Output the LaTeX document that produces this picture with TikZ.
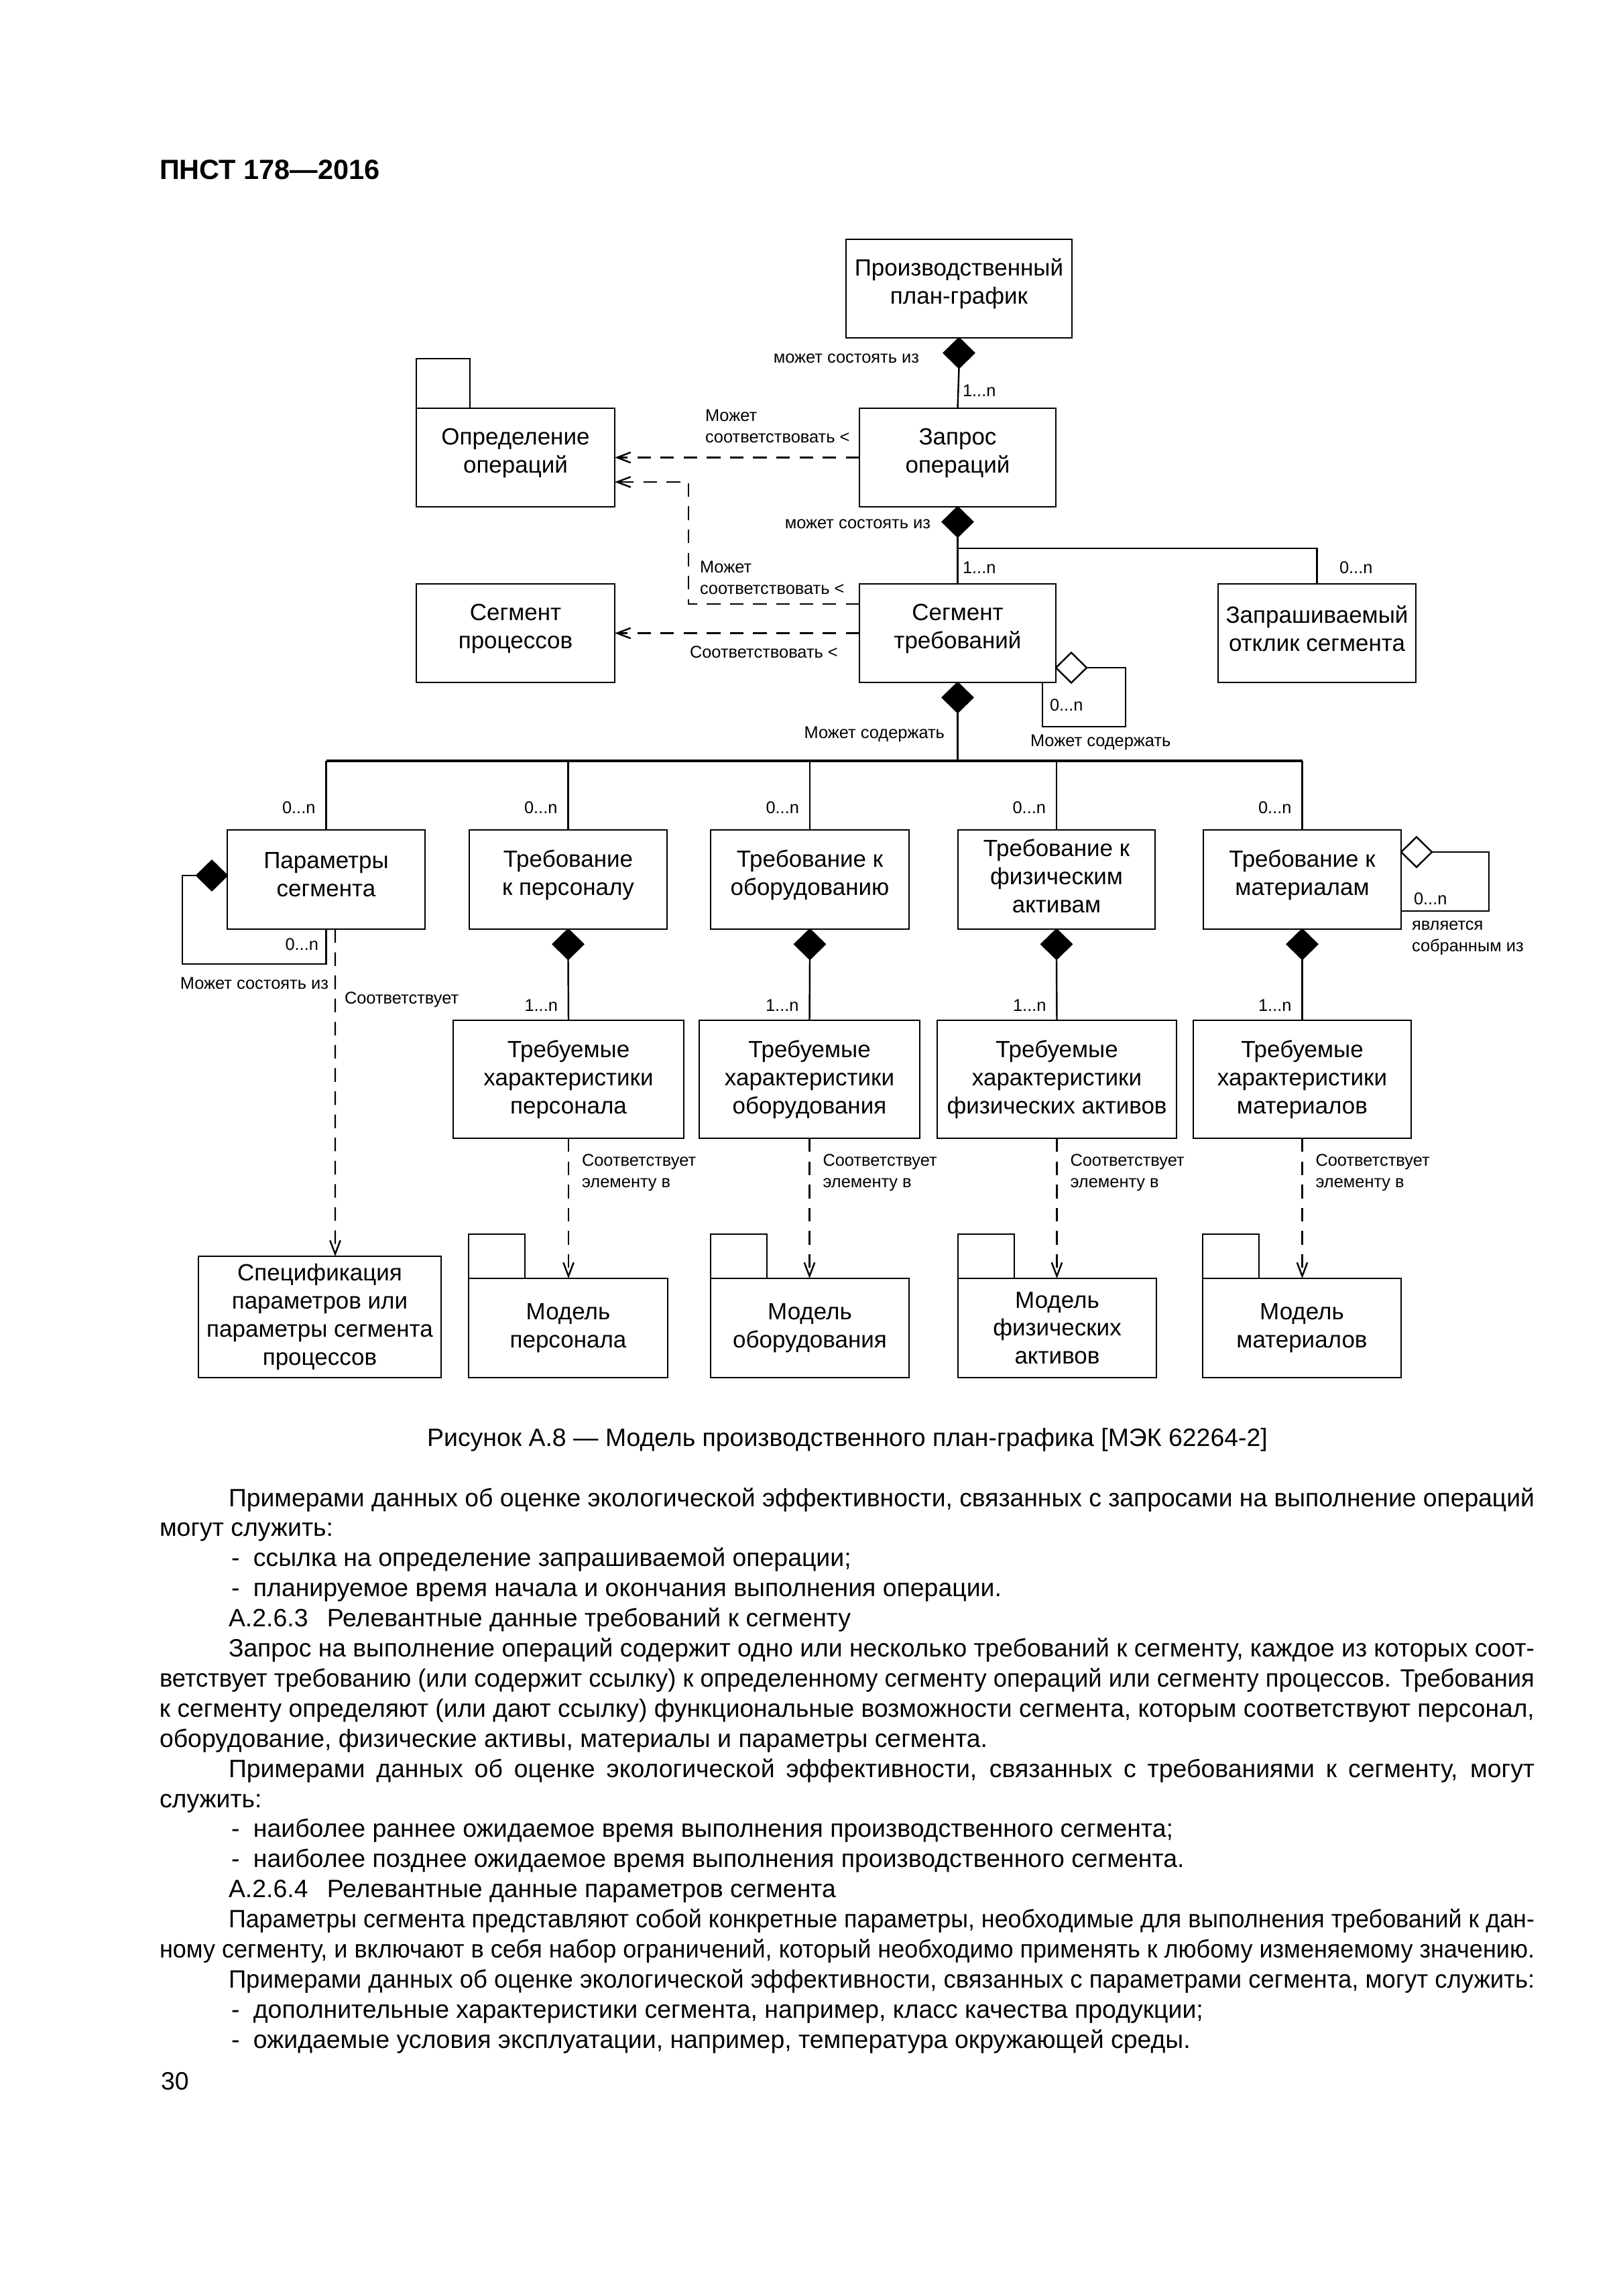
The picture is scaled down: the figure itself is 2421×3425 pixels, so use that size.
\documentclass[tikz,border=0pt]{standalone}
\usepackage{fontspec}
\usepackage{graphicx}
\setmainfont{Liberation Sans}
\usetikzlibrary{shapes.geometric,arrows.meta,calc}
\newsavebox\jlbox
\newcommand\jline[2]{\sbox\jlbox{#2}\ifdim\wd\jlbox>#1\relax\resizebox{#1}{\height}{\usebox\jlbox}\else\makebox[#1][s]{#2}\fi}
\newcommand\bodyfont{\fontsize{9.2pt}{11pt}\selectfont}
\newcommand\boxfont{\fontsize{8.6pt}{10.3pt}\selectfont}
\newcommand\lblfont{\fontsize{6.25pt}{7.8pt}\selectfont}
% \bx[text shift]{name}{x1}{y1}{x2}{y2}{text}
\newcommand\bx[7][0]{\node[box, minimum width={(#5-#3)*0.24589pt}, minimum height={(#6-#4)*0.24589pt}] (#2) at ({(#3+#5)/2},{(#4+#6)/2}) {};
  \node[boxtext] (#2t) at ($(#2.center)+(0,#1)$) {#7};}
\begin{document}
\begin{tikzpicture}[x=0.24589pt,y=-0.24589pt,
  every node/.style={inner sep=0pt, outer sep=0pt},
  box/.style={draw, line width=0.7pt},
  boxtext/.style={align=center, font=\boxfont},
  lbl/.style={font=\lblfont, align=left},
  txt/.style={font=\bodyfont, anchor=base west},
  con/.style={line width=0.6pt},
  bus/.style={line width=0.8pt},
  dep/.style={line width=0.6pt, dash pattern=on 5pt off 3.5pt, -{Straight Barb[length=5pt,width=3.8pt]}},
  fdiam/.style={diamond, draw, fill=black, line width=0.5pt, minimum width=46*0.24589pt, minimum height=45*0.24589pt},
  odiam/.style={diamond, draw, fill=white, line width=0.6pt, minimum width=46*0.24589pt, minimum height=45*0.24589pt}]
\fill[white] (0,0) rectangle (2421,3425);
\useasboundingbox (0,0) rectangle (2421,3425);

% header
\node[anchor=base west, font=\fontsize{10.2pt}{12pt}\selectfont\bfseries] (hdr) at (238,267) {ПНСТ 178—2016};

% top boxes
\bx[-7]{b1}{1262}{357}{1599}{504}{Производственный\\план-график}
\bx[-7]{b2}{621}{609}{917}{756}{Определение\\операций}
\bx[-7]{b3}{1282}{609}{1575}{756}{Запрос\\операций}
\bx[-7]{b4}{1282}{871}{1575}{1018}{Сегмент\\требований}
\bx[-7]{b5}{621}{871}{917}{1018}{Сегмент\\процессов}
\bx[-7]{b6}{1817}{871}{2112}{1018}{Запрашиваемый\\отклик сегмента}
\draw[line width=0.7pt] (b2.north west) rectangle ++(80,-74);

% row 3
\bx[-7]{r1}{339}{1238}{634}{1386}{Параметры\\сегмента}
\bx[-7]{r2}{700}{1238}{995}{1386}{Требование\\к персоналу}
\bx[-7]{r3}{1060}{1238}{1356}{1386}{Требование к\\оборудованию}
\bx[-5]{r4}{1429}{1238}{1723}{1386}{Требование к\\физическим\\активам}
\bx[-7]{r5}{1795}{1238}{2090}{1386}{Требование к\\материалам}

% row 4
\bx{q2}{676}{1522}{1020}{1698}{Требуемые\\характеристики\\персонала}
\bx{q3}{1043}{1522}{1372}{1698}{Требуемые\\характеристики\\оборудования}
\bx{q4}{1398}{1522}{1755}{1698}{Требуемые\\характеристики\\физических активов}
\bx{q5}{1780}{1522}{2105}{1698}{Требуемые\\характеристики\\материалов}

% row 5
\bx{s}{296}{1874}{658}{2055}{Спецификация\\параметров или\\параметры сегмента\\процессов}
\bx{m2}{699}{1907}{996}{2055}{Модель\\персонала}
\bx{m3}{1060}{1907}{1356}{2055}{Модель\\оборудования}
\bx{m4}{1429}{1907}{1725}{2055}{Модель\\физических\\активов}
\bx{m5}{1794}{1907}{2090}{2055}{Модель\\материалов}
\foreach \m in {m2,m3,m4,m5}{\draw[line width=0.7pt] (\m.north west) rectangle ++(84,-66);}

% diamonds
\node[fdiam, anchor=north] (dB1) at (b1.south) {};
\node[fdiam, anchor=north] (dB3) at (b3.south) {};
\node[fdiam, anchor=north] (dB4) at (b4.south) {};
\node[odiam, anchor=west] (dB4s) at ($(b4.south east)+(0,-22)$) {};
\node[fdiam, anchor=east] (dR1) at ($(r1.west)+(0,-6)$) {};
\node[fdiam, anchor=north] (dR2) at (r2.south) {};
\node[fdiam, anchor=north] (dR3) at (r3.south) {};
\node[fdiam, anchor=north] (dR4) at (r4.south) {};
\node[fdiam, anchor=north] (dR5) at (r5.south) {};
\node[odiam, anchor=west] (dR5s) at ($(r5.north east)+(0,33)$) {};

% composition lines
\coordinate (j3) at (0,818);
\coordinate (busy) at (0,1135);
\draw[con] (dB1.south) -- (b3.north);
\draw[con] (dB3.south) -- (b4.north);
\draw[con] (dB3.south |- j3) -| (b6.north);
\draw[con] (dB4.south) -- (dB4.south |- busy);
\draw[bus] (r1.north |- busy) -- (r5.north |- busy);
\foreach \r in {r1,r2,r3,r4,r5}{
  \draw[con] (\r.north) -- (\r.north |- busy);
  \node[lbl, anchor=east] (n\r) at ($(\r.north)+(-16,-33)$) {0...n};
}
\draw[con] (dR2.south) -- (q2.north);
\draw[con] (dR3.south) -- (q3.north);
\draw[con] (dR4.south) -- (q4.north);
\draw[con] (dR5.south) -- (q5.north);
\foreach \q in {q2,q3,q4,q5}{
  \node[lbl, anchor=east] (o\q) at ($(\q.north)+(-16,-22)$) {1...n};
  \draw[dep] (\q.south) -- (\q.south |- m2.north);
  \node[lbl, anchor=west] (c\q) at ($(\q.south)+(20,51)$) {Соответствует\\элементу в};
}

% self loops
\draw[con] (dB4s.east) -| ($(b4.south east)+(104,66)$) -| ($(b4.south)+(126.5,0)$);
\draw[con] (dR1.west) -| ($(r1.south)+(-214.5,52)$) -| (r1.south);
\draw[con] (dR5s.east) -| ($(r5.east)+(131,47)$) -- ($(r5.east)+(0,47)$);

% dependencies
\draw[dep] (b3.west) -- (b3.west -| b2.east);
\draw[dep] ($(b4.west)+(0,-43.5)$) -| ($(b2.east)+(110,36.5)$) -- ($(b2.east)+(0,36.5)$);
\draw[dep] (b4.west) -- (b4.west -| b5.east);
\draw[dep] ($(r1.south)+(13.5,0)$) -- ($(s.north)+(23,0)$);

% labels
\node[lbl, anchor=east] (l1) at (1371,535) {может состоять из};
\node[lbl, anchor=west] (l2) at (1436,583) {1...n};
\node[lbl, anchor=west] (l3) at (1052,636) {Может\\соответствовать <};
\node[lbl, anchor=east] (l4) at (1388,782) {может состоять из};
\node[lbl, anchor=west] (l5) at (1436,847) {1...n};
\node[lbl, anchor=west] (l6) at (1998,847) {0...n};
\node[lbl, anchor=west] (l7) at (1044,862) {Может\\соответствовать <};
\node[lbl, anchor=west] (l8) at (1029,973) {Соответствовать <};
\node[lbl, anchor=west] (l9) at (1566,1052) {0...n};
\node[lbl, anchor=west] (l10) at (1537,1107) {Может содержать};
\node[lbl, anchor=east] (l11) at (1409,1095) {Может содержать};
\node[lbl, anchor=east] (l12) at (475,1409) {0...n};
\node[lbl, anchor=east] (l13) at (490,1467) {Может состоять из};
\node[lbl, anchor=west] (l14) at (514,1491) {Соответствует};
\node[lbl, anchor=west] (l15) at (2109,1341) {0...n};
\node[lbl, anchor=west] (l16) at (2106,1399) {является\\собранным из};

% caption
\node[anchor=base, font=\bodyfont] (cap) at (1264,2157) {Рисунок А.8 — Модель производственного план-графика [МЭК 62264-2]};

% body text
\node[txt] (t1) at (341,2247) {\jline{479pt}{Примерами данных об оценке экологической эффективности, связанных с запросами на выполнение операций}};
\node[txt] (t2) at (238,2291.9) {могут служить:};
\node[txt] (t3) at (345,2336.8) {\makebox[8.1pt][l]{-}ссылка на определение запрашиваемой операции;};
\node[txt] (t4) at (345,2381.7) {\makebox[8.1pt][l]{-}планируемое время начала и окончания выполнения операции.};
\node[txt] (t5) at (341,2426.6) {\makebox[36.1pt][l]{А.2.6.3}Релевантные данные требований к сегменту};
\node[txt] (t6) at (341,2471.5) {\jline{479pt}{Запрос на выполнение операций содержит одно или несколько требований к сегменту, каждое из которых соот-}};
\node[txt] (t7) at (238,2516.4) {\jline{504.3pt}{ветствует требованию (или содержит ссылку) к определенному сегменту операций или сегменту процессов. Требования}};
\node[txt] (t8) at (238,2561.3) {\jline{504.3pt}{к сегменту определяют (или дают ссылку) функциональные возможности сегмента, которым соответствуют персонал,}};
\node[txt] (t9) at (238,2606.2) {оборудование, физические активы, материалы и параметры сегмента.};
\node[txt] (t10) at (341,2651.1) {\jline{479pt}{Примерами данных об оценке экологической эффективности, связанных с требованиями к сегменту, могут}};
\node[txt] (t11) at (238,2696) {служить:};
\node[txt] (t12) at (345,2740.9) {\makebox[8.1pt][l]{-}наиболее раннее ожидаемое время выполнения производственного сегмента;};
\node[txt] (t13) at (345,2785.8) {\makebox[8.1pt][l]{-}наиболее позднее ожидаемое время выполнения производственного сегмента.};
\node[txt] (t14) at (341,2830.7) {\makebox[36.1pt][l]{А.2.6.4}Релевантные данные параметров сегмента};
\node[txt] (t15) at (341,2875.6) {\jline{479pt}{Параметры сегмента представляют собой конкретные параметры, необходимые для выполнения требований к дан-}};
\node[txt] (t16) at (238,2920.5) {\jline{504.3pt}{ному сегменту, и включают в себя набор ограничений, который необходимо применять к любому изменяемому значению.}};
\node[txt] (t17) at (341,2965.4) {\jline{479pt}{Примерами данных об оценке экологической эффективности, связанных с параметрами сегмента, могут служить:}};
\node[txt] (t18) at (345,3010.3) {\makebox[8.1pt][l]{-}дополнительные характеристики сегмента, например, класс качества продукции;};
\node[txt] (t19) at (345,3055.2) {\makebox[8.1pt][l]{-}ожидаемые условия эксплуатации, например, температура окружающей среды.};
\node[txt] (pg) at (240,3117) {30};
\end{tikzpicture}
\end{document}
